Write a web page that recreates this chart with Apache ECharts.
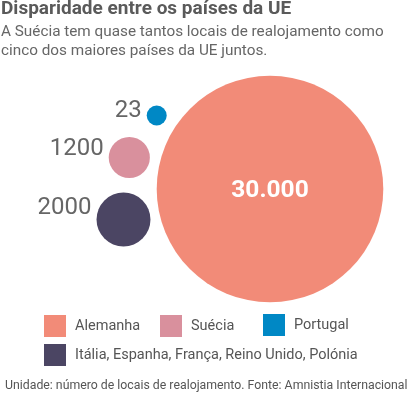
<!DOCTYPE html>
<html>
<head>
<meta charset="utf-8">
<script src="https://cdn.jsdelivr.net/npm/echarts@6/dist/echarts.min.js"></script>
<style>
html,body{margin:0;padding:0;background:#fff;}
#chart{width:409px;height:396px;}
</style>
</head>
<body>
<div id="chart"></div>
<script>
const categories = ['Alemanha', 'Suécia', 'Portugal', 'Itália, Espanha, França, Reino Unido, Polónia'];
const values = [30000, 1200, 23, 2000];
const valueLabels = ['30.000', '1200', '23', '2000'];
const colors = ['#F28B78', '#D9909D', '#0088C5', '#4B4563'];

// layout (bubble centres in chart pixel space, not data)
const centers = [[270, 189], [129.3, 157.5], [156.7, 115.5], [123.5, 219.5]];
const legendPos = [[44, 315], [160, 315], [263, 314], [44, 344]];

const maxVal = 30000, maxDiam = 226.6, minDiam = 20;
function diam(v) { return Math.max(minDiam, maxDiam * Math.pow(v / maxVal, 0.53)); }

const series = categories.map((c, i) => ({
  type: 'scatter',
  name: c,
  data: [{ value: [centers[i][0], centers[i][1], values[i]], name: c }],
  symbolSize: (d) => diam(d[2]),
  itemStyle: { color: colors[i], opacity: 1 },
  emphasis: { disabled: true },
  label: i === 0 ? {
    show: true, position: 'inside', formatter: valueLabels[i], offset: [0, 2],
    color: '#fff', fontSize: 24.5, fontWeight: 'bold', fontFamily: 'Roboto'
  } : {
    show: true, position: 'left', distance: 5, formatter: valueLabels[i],
    offset: [0, -0.42 * diam(values[i]) / 2],
    color: '#666', fontSize: 24, fontFamily: 'Roboto'
  }
}));

const legends = categories.map((c, i) => ({
  data: [c], left: legendPos[i][0], top: legendPos[i][1],
  itemWidth: 22, itemHeight: 22, icon: 'rect', padding: 0,
  selectedMode: false,
  textStyle: { fontSize: 14.5, color: '#555', fontFamily: 'Roboto', padding: [0, 0, 0, 4] }
}));

const chart = echarts.init(document.getElementById('chart'), null, { renderer: 'canvas' });
chart.setOption({
  animation: false,
  backgroundColor: '#fff',
  title: [{
    text: 'Disparidade entre os países da UE',
    subtext: 'A Suécia tem quase tantos locais de realojamento como\ncinco dos maiores países da UE juntos.',
    left: 0, top: 0, padding: [0, 0, 0, 1], itemGap: 4,
    textStyle: { fontSize: 19, fontWeight: 'bold', color: '#5a5a5a', fontFamily: 'Roboto' },
    subtextStyle: { fontSize: 15.3, color: '#666', fontFamily: 'Roboto', lineHeight: 18.5 }
  }, {
    text: 'Unidade: número de locais de realojamento. Fonte: Amnistia Internacional',
    left: 5, top: 380, padding: 0,
    textStyle: { fontSize: 12.3, fontWeight: 'normal', color: '#555', fontFamily: 'Roboto' }
  }],
  legend: legends,
  grid: { left: 0, right: 0, top: 0, bottom: 0 },
  xAxis: { type: 'value', min: 0, max: 409, show: false },
  yAxis: { type: 'value', min: 0, max: 396, inverse: true, show: false },
  series: series
});
</script>
</body>
</html>
